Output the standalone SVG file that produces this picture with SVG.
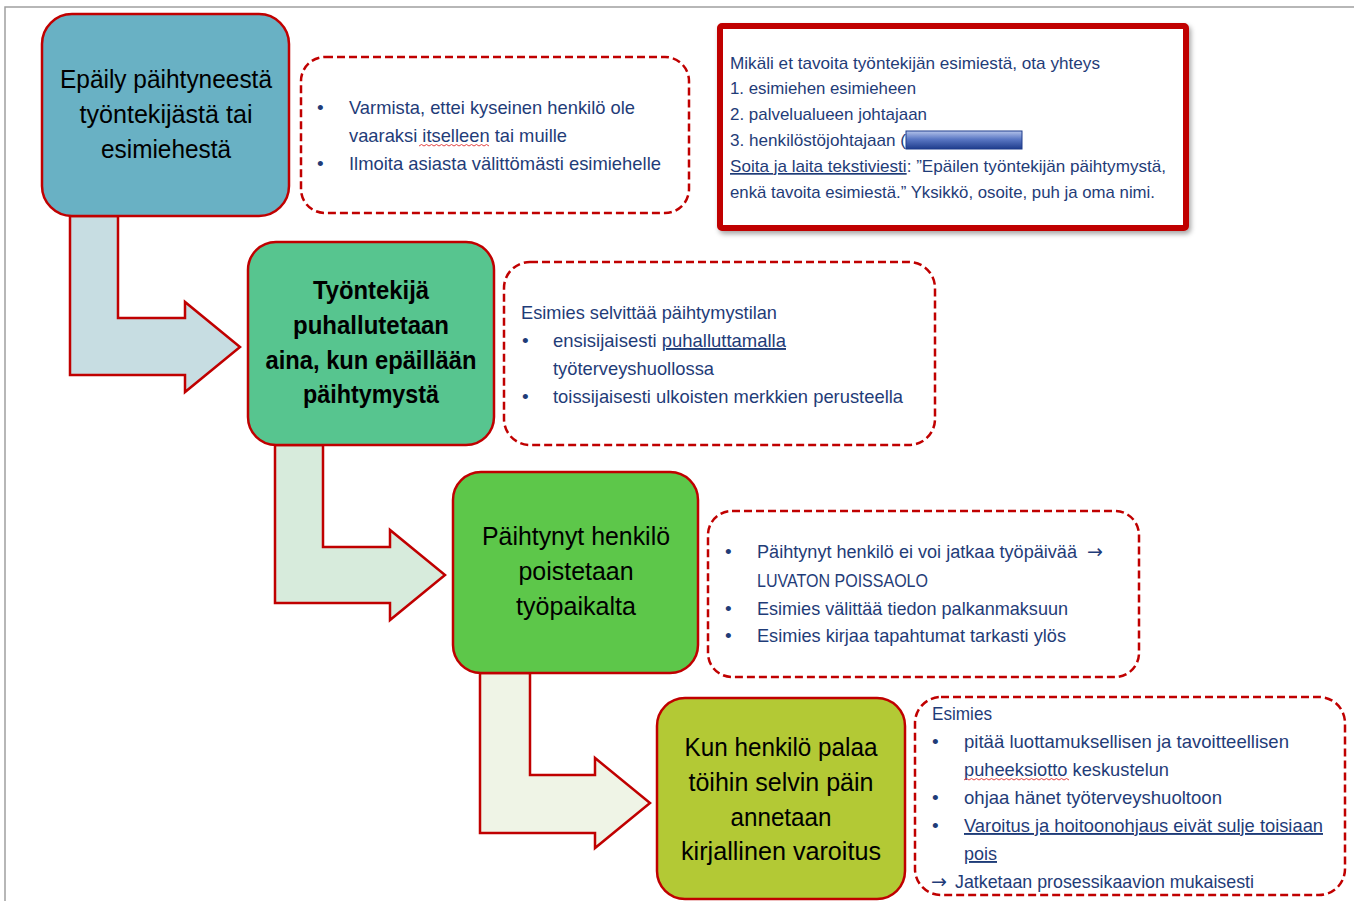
<svg xmlns="http://www.w3.org/2000/svg" width="1354" height="901" viewBox="0 0 1354 901">
<defs>
<style>
.frame{stroke:#a0a0a0;stroke-width:1.5;fill:none}
.node{stroke:#C00000;stroke-width:2.5}
.note{fill:#fff;stroke:#C00000;stroke-width:2.5;stroke-dasharray:8 4}
.arrow{stroke:#C00000;stroke-width:2.5;stroke-linejoin:miter}
.big{font-family:"Liberation Sans",Arial,sans-serif;font-size:25px;fill:#000;text-anchor:middle}
.bold{font-weight:bold}
.t{font-family:"Liberation Sans",Arial,sans-serif;font-size:19px;fill:#1F3C78}
.t18{font-size:18px}
.s{font-family:"Liberation Sans",Arial,sans-serif;font-size:17px;fill:#1F3C78}
.u{text-decoration:underline}
.ar{font-family:"DejaVu Sans",sans-serif;font-size:19px;fill:#1F3C78}
.wavy{fill:none;stroke:#E03030;stroke-width:0.9}
</style>
<linearGradient id="redact" x1="0" y1="0" x2="0" y2="1">
<stop offset="0" stop-color="#B4C3EA"/>
<stop offset="0.45" stop-color="#5B78C4"/>
<stop offset="1" stop-color="#1E3C8C"/>
</linearGradient>
<filter id="shadow" x="-5%" y="-5%" width="112%" height="115%">
<feDropShadow dx="2" dy="3" stdDeviation="2.5" flood-color="#000" flood-opacity="0.35"/>
</filter>
</defs>

<path class="frame" d="M5,901 L5,7 L1354,7"/>

<g id="connectors">
<path class="arrow" fill="#C7DDE2" d="M70,216 L118,216 L118,318 L185,318 L185,302 L240,347 L185,392 L185,375 L70,375 Z"/>
<path class="arrow" fill="#D7EBDC" d="M275,445 L323,445 L323,547 L390,547 L390,530 L445,575 L390,620 L390,603 L275,603 Z"/>
<path class="arrow" fill="#EFF4E6" d="M480,673 L530,673 L530,775 L595,775 L595,758 L650,803 L595,848 L595,833 L480,833 Z"/>
</g>

<g id="node1">
<rect class="node" x="42" y="14" width="247" height="202" rx="30" fill="#69B1C4"/>
<text class="big"><tspan x="166" y="88" textLength="212" lengthAdjust="spacingAndGlyphs">Epäily päihtyneestä</tspan></text>
<text class="big"><tspan x="166" y="123" textLength="173" lengthAdjust="spacingAndGlyphs">työntekijästä tai</tspan></text>
<text class="big"><tspan x="166" y="158" textLength="130" lengthAdjust="spacingAndGlyphs">esimiehestä</tspan></text>
</g>

<g id="note1">
<rect class="note" x="301" y="57" width="388" height="156" rx="24"/>
<text class="t" x="317" y="114">•</text>
<text class="t" x="349" y="114" textLength="286" lengthAdjust="spacingAndGlyphs">Varmista, ettei kyseinen henkilö ole</text>
<text class="t" x="349" y="142" textLength="218" lengthAdjust="spacingAndGlyphs">vaaraksi itselleen tai muille</text>
<path class="wavy" d="M419,146 l2.5,-1.5 l2.5,1.5 l2.5,-1.5 l2.5,1.5 l2.5,-1.5 l2.5,1.5 l2.5,-1.5 l2.5,1.5 l2.5,-1.5 l2.5,1.5 l2.5,-1.5 l2.5,1.5 l2.5,-1.5 l2.5,1.5 l2.5,-1.5 l2.5,1.5 l2.5,-1.5 l2.5,1.5 l2.5,-1.5 l2.5,1.5 l2.5,-1.5 l2.5,1.5 l2.5,-1.5 l2.5,1.5 l2.5,-1.5 l2.5,1.5 l2.5,-1.5 l2.5,1.5"/>
<text class="t" x="317" y="170">•</text>
<text class="t" x="349" y="170" textLength="312" lengthAdjust="spacingAndGlyphs">Ilmoita asiasta välittömästi esimiehelle</text>
</g>

<g id="contact">
<rect x="720" y="26" width="466" height="202" rx="2" fill="#fff" stroke="#C00000" stroke-width="6" filter="url(#shadow)"/>
<text class="s" x="730" y="69" textLength="370" lengthAdjust="spacingAndGlyphs">Mikäli et tavoita työntekijän esimiestä, ota yhteys</text>
<text class="s" x="730" y="94" textLength="186" lengthAdjust="spacingAndGlyphs">1. esimiehen esimieheen</text>
<text class="s" x="730" y="120" textLength="197" lengthAdjust="spacingAndGlyphs">2. palvelualueen johtajaan</text>
<text class="s" x="730" y="146" textLength="176" lengthAdjust="spacingAndGlyphs">3. henkilöstöjohtajaan (</text>
<rect x="906" y="131" width="116" height="18" fill="url(#redact)" stroke="#1E3C8C" stroke-width="1"/>
<text class="s" x="730" y="172" textLength="436" lengthAdjust="spacingAndGlyphs"><tspan class="u">Soita ja laita tekstiviesti</tspan>: ”Epäilen työntekijän päihtymystä,</text>
<text class="s" x="730" y="198" textLength="425" lengthAdjust="spacingAndGlyphs">enkä tavoita esimiestä.” Yksikkö, osoite, puh ja oma nimi.</text>
</g>

<g id="node2">
<rect class="node" x="248" y="242" width="246" height="203" rx="28" fill="#57C58F"/>
<text class="big bold"><tspan x="371" y="299" textLength="116" lengthAdjust="spacingAndGlyphs">Työntekijä</tspan></text>
<text class="big bold"><tspan x="371" y="334" textLength="156" lengthAdjust="spacingAndGlyphs">puhallutetaan</tspan></text>
<text class="big bold"><tspan x="371" y="369" textLength="211" lengthAdjust="spacingAndGlyphs">aina, kun epäillään</tspan></text>
<text class="big bold"><tspan x="371" y="403" textLength="136" lengthAdjust="spacingAndGlyphs">päihtymystä</tspan></text>
</g>

<g id="note2">
<rect class="note" x="504" y="262" width="431" height="183" rx="26"/>
<text class="t" x="521" y="319" textLength="256" lengthAdjust="spacingAndGlyphs">Esimies selvittää päihtymystilan</text>
<text class="t" x="522" y="347">•</text>
<text class="t" x="553" y="347" textLength="233" lengthAdjust="spacingAndGlyphs">ensisijaisesti <tspan class="u">puhalluttamalla</tspan></text>
<text class="t" x="553" y="375" textLength="161" lengthAdjust="spacingAndGlyphs">työterveyshuollossa</text>
<text class="t" x="522" y="403">•</text>
<text class="t" x="553" y="403" textLength="350" lengthAdjust="spacingAndGlyphs">toissijaisesti ulkoisten merkkien perusteella</text>
</g>

<g id="node3">
<rect class="node" x="453" y="472" width="245" height="201" rx="28" fill="#5DC74A"/>
<text class="big"><tspan x="576" y="545" textLength="188" lengthAdjust="spacingAndGlyphs">Päihtynyt henkilö</tspan></text>
<text class="big"><tspan x="576" y="580" textLength="115" lengthAdjust="spacingAndGlyphs">poistetaan</tspan></text>
<text class="big"><tspan x="576" y="615" textLength="120" lengthAdjust="spacingAndGlyphs">työpaikalta</tspan></text>
</g>

<g id="note3">
<rect class="note" x="708" y="511" width="431" height="166" rx="24"/>
<text class="t" x="725" y="558">•</text>
<text class="t t18" x="757" y="558" textLength="320" lengthAdjust="spacingAndGlyphs">Päihtynyt henkilö ei voi jatkaa työpäivää</text>
<text class="ar" x="1087" y="558">→</text>
<text class="t" x="757" y="587" textLength="171" lengthAdjust="spacingAndGlyphs">LUVATON POISSAOLO</text>
<text class="t" x="725" y="615">•</text>
<text class="t" x="757" y="615" textLength="311" lengthAdjust="spacingAndGlyphs">Esimies välittää tiedon palkanmaksuun</text>
<text class="t" x="725" y="642">•</text>
<text class="t" x="757" y="642" textLength="309" lengthAdjust="spacingAndGlyphs">Esimies kirjaa tapahtumat tarkasti ylös</text>
</g>

<g id="node4">
<rect class="node" x="657" y="698" width="248" height="201" rx="28" fill="#B3C935"/>
<text class="big"><tspan x="781" y="756" textLength="193" lengthAdjust="spacingAndGlyphs">Kun henkilö palaa</tspan></text>
<text class="big"><tspan x="781" y="791" textLength="185" lengthAdjust="spacingAndGlyphs">töihin selvin päin</tspan></text>
<text class="big"><tspan x="781" y="826" textLength="101" lengthAdjust="spacingAndGlyphs">annetaan</tspan></text>
<text class="big"><tspan x="781" y="860" textLength="200" lengthAdjust="spacingAndGlyphs">kirjallinen varoitus</tspan></text>
</g>

<g id="note4">
<rect class="note" x="915" y="697" width="430" height="198" rx="26"/>
<text class="t" x="932" y="720" textLength="60" lengthAdjust="spacingAndGlyphs">Esimies</text>
<text class="t" x="932" y="748">•</text>
<text class="t" x="964" y="748" textLength="325" lengthAdjust="spacingAndGlyphs">pitää luottamuksellisen ja tavoitteellisen</text>
<text class="t" x="964" y="776" textLength="205" lengthAdjust="spacingAndGlyphs">puheeksiotto keskustelun</text>
<path class="wavy" d="M964,780 l2.5,-1.5 l2.5,1.5 l2.5,-1.5 l2.5,1.5 l2.5,-1.5 l2.5,1.5 l2.5,-1.5 l2.5,1.5 l2.5,-1.5 l2.5,1.5 l2.5,-1.5 l2.5,1.5 l2.5,-1.5 l2.5,1.5 l2.5,-1.5 l2.5,1.5 l2.5,-1.5 l2.5,1.5 l2.5,-1.5 l2.5,1.5 l2.5,-1.5 l2.5,1.5 l2.5,-1.5 l2.5,1.5 l2.5,-1.5 l2.5,1.5 l2.5,-1.5 l2.5,1.5 l2.5,-1.5 l2.5,1.5 l2.5,-1.5 l2.5,1.5 l2.5,-1.5 l2.5,1.5 l2.5,-1.5 l2.5,1.5 l2.5,-1.5 l2.5,1.5 l2.5,-1.5 l2.5,1.5 l2.5,-1.5 l2.5,1.5"/>
<text class="t" x="932" y="804">•</text>
<text class="t" x="964" y="804" textLength="258" lengthAdjust="spacingAndGlyphs">ohjaa hänet työterveyshuoltoon</text>
<text class="t" x="932" y="832">•</text>
<text class="t u" x="964" y="832" textLength="359" lengthAdjust="spacingAndGlyphs">Varoitus ja hoitoonohjaus eivät sulje toisiaan</text>
<text class="t u" x="964" y="860" textLength="33" lengthAdjust="spacingAndGlyphs">pois</text>
<text class="ar" x="931" y="888">→</text>
<text class="t" x="955" y="888" textLength="299" lengthAdjust="spacingAndGlyphs">Jatketaan prosessikaavion mukaisesti</text>
</g>
</svg>
